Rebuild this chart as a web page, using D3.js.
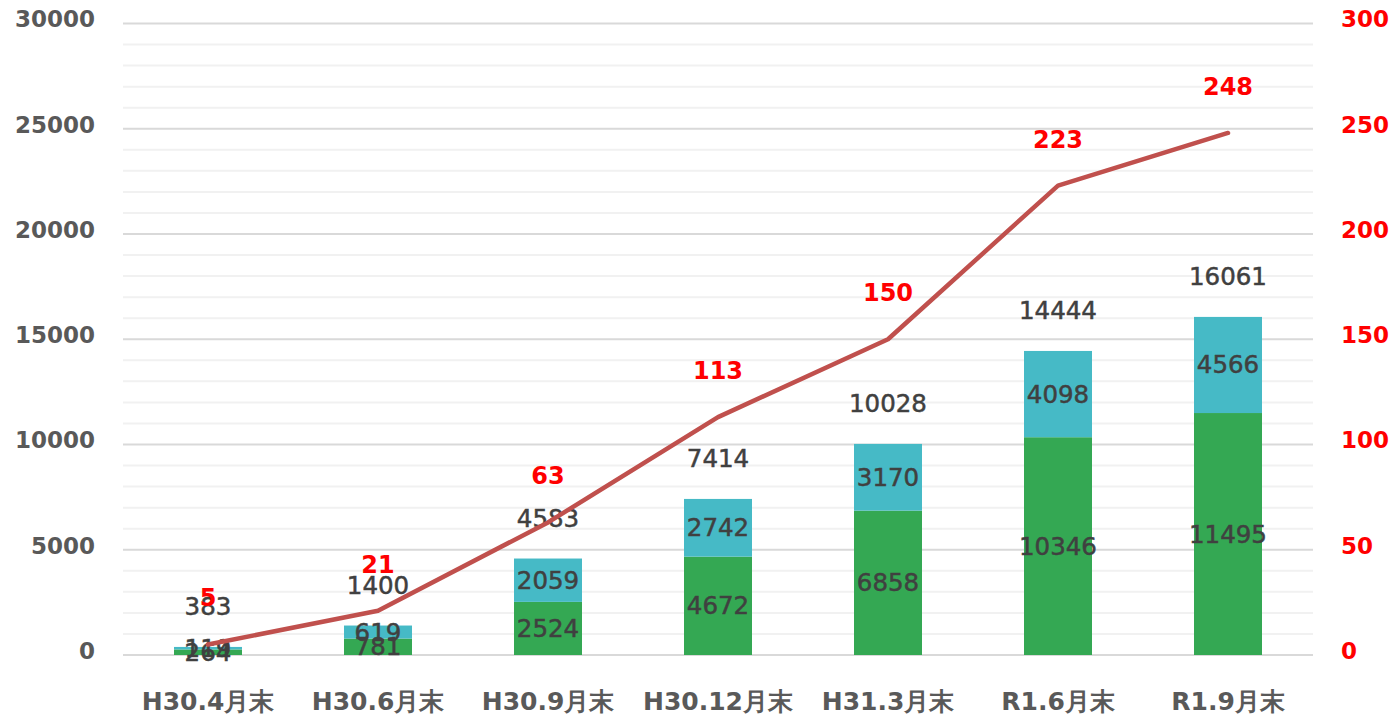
<!DOCTYPE html>
<html>
<head>
<meta charset="utf-8">
<script src="https://cdn.jsdelivr.net/npm/d3@7"></script>
<style>
  html, body { margin: 0; padding: 0; background: #fff; }
  svg { display: block; }
</style>
</head>
<body>
<svg id="chart" width="1395" height="718"></svg>
<script>
// Period labels along the x axis
const categories = ["H30.4月末", "H30.6月末", "H30.9月末", "H30.12月末", "H31.3月末", "R1.6月末", "R1.9月末"];
// Stacked bar series (left axis)
const lowerValues = [264, 781, 2524, 4672, 6858, 10346, 11495];
const upperValues = [119, 619, 2059, 2742, 3170, 4098, 4566];
const totalValues = [383, 1400, 4583, 7414, 10028, 14444, 16061];
// Line series (right axis)
const lineValues = [5, 21, 63, 113, 150, 223, 248];
// Axis ticks
const leftTicks = [0, 5000, 10000, 15000, 20000, 25000, 30000];
const rightTicks = [0, 50, 100, 150, 200, 250, 300];

const svg = d3.select("#chart");
const plot = { left: 123, right: 1313, top: 23.5, bottom: 655 };

const x = d3.scaleBand().domain(categories).range([plot.left, plot.right]).paddingInner(0.6).paddingOuter(0.3);
const yL = d3.scaleLinear().domain([0, 30000]).range([plot.bottom, plot.top]);
const yR = d3.scaleLinear().domain([0, 300]).range([plot.bottom, plot.top]);

const font = "'DejaVu Sans', Verdana, sans-serif";

// Minor and major gridlines
const grid = svg.append("g");
grid.selectAll("line.minor")
  .data(d3.range(1000, 30000, 1000).filter(v => v % 5000 !== 0))
  .join("line")
  .attr("x1", plot.left).attr("x2", plot.right)
  .attr("y1", d => yL(d)).attr("y2", d => yL(d))
  .attr("stroke", "#f1f1f1").attr("stroke-width", 2);
grid.selectAll("line.major")
  .data(leftTicks)
  .join("line")
  .attr("x1", plot.left).attr("x2", plot.right)
  .attr("y1", d => yL(d)).attr("y2", d => yL(d))
  .attr("stroke", "#d9d9d9").attr("stroke-width", 2);

// Left axis
const leftAxis = svg.append("g")
  .attr("transform", `translate(${plot.left},0)`)
  .call(d3.axisLeft(yL).tickValues(leftTicks).tickSize(0).tickPadding(28).tickFormat(d3.format("d")));
leftAxis.select(".domain").remove();
leftAxis.selectAll("text")
  .attr("y", -4)
  .attr("font-family", font).attr("font-size", 23).attr("font-weight", "bold")
  .attr("fill", "#595959");

// Right axis
const rightAxis = svg.append("g")
  .attr("transform", `translate(${plot.right},0)`)
  .call(d3.axisRight(yR).tickValues(rightTicks).tickSize(0).tickPadding(28).tickFormat(d3.format("d")));
rightAxis.select(".domain").remove();
rightAxis.selectAll("text")
  .attr("y", -4)
  .attr("font-family", font).attr("font-size", 23).attr("font-weight", "bold")
  .attr("fill", "#ff0000");

// Bottom axis labels
const bottomAxis = svg.append("g")
  .attr("transform", `translate(0,${plot.bottom})`)
  .call(d3.axisBottom(x).tickSize(0).tickPadding(37));
bottomAxis.select(".domain").remove();
bottomAxis.selectAll("text")
  .attr("font-family", font).attr("font-size", 25).attr("font-weight", "bold")
  .attr("fill", "#595959");

// Stacked bars
const rows = categories.map((c, i) => ({ cat: c, lower: lowerValues[i], upper: upperValues[i] }));
const stack = d3.stack().keys(["lower", "upper"])(rows);
const colors = { lower: "#34a853", upper: "#46bac6" };

const barG = svg.append("g");
stack.forEach(layer => {
  barG.selectAll(null)
    .data(layer)
    .join("rect")
    .attr("x", d => x(d.data.cat))
    .attr("width", x.bandwidth())
    .attr("y", d => yL(d[1]))
    .attr("height", d => yL(d[0]) - yL(d[1]))
    .attr("fill", colors[layer.key]);
});

// Segment value labels
const labelG = svg.append("g")
  .attr("font-family", font).attr("font-size", 24.5).attr("fill", "#404040")
  .attr("stroke", "#404040").attr("stroke-width", 0.5)
  .attr("text-anchor", "middle").attr("dominant-baseline", "central");
stack.forEach(layer => {
  labelG.selectAll(null)
    .data(layer)
    .join("text")
    .attr("x", d => x(d.data.cat) + x.bandwidth() / 2)
    .attr("y", d => (yL(d[0]) + yL(d[1])) / 2)
    .text(d => d.data[layer.key]);
});

// Total labels above each bar
labelG.selectAll(null)
  .data(categories)
  .join("text")
  .attr("x", d => x(d) + x.bandwidth() / 2)
  .attr("y", (d, i) => yL(totalValues[i]) - 40)
  .text((d, i) => totalValues[i]);

// Line series
const linePts = categories.map((c, i) => [x(c) + x.bandwidth() / 2, yR(lineValues[i])]);
svg.append("path")
  .attr("d", d3.line()(linePts))
  .attr("fill", "none")
  .attr("stroke", "#c0504d")
  .attr("stroke-width", 4.5)
  .attr("stroke-linejoin", "round")
  .attr("stroke-linecap", "round");

// Line value labels
svg.append("g")
  .attr("font-family", font).attr("font-size", 24).attr("font-weight", "bold")
  .attr("fill", "#ff0000").attr("text-anchor", "middle").attr("dominant-baseline", "central")
  .selectAll("text")
  .data(lineValues)
  .join("text")
  .attr("x", (d, i) => linePts[i][0])
  .attr("y", d => yR(d) - 46)
  .text(d => d);
</script>
</body>
</html>
